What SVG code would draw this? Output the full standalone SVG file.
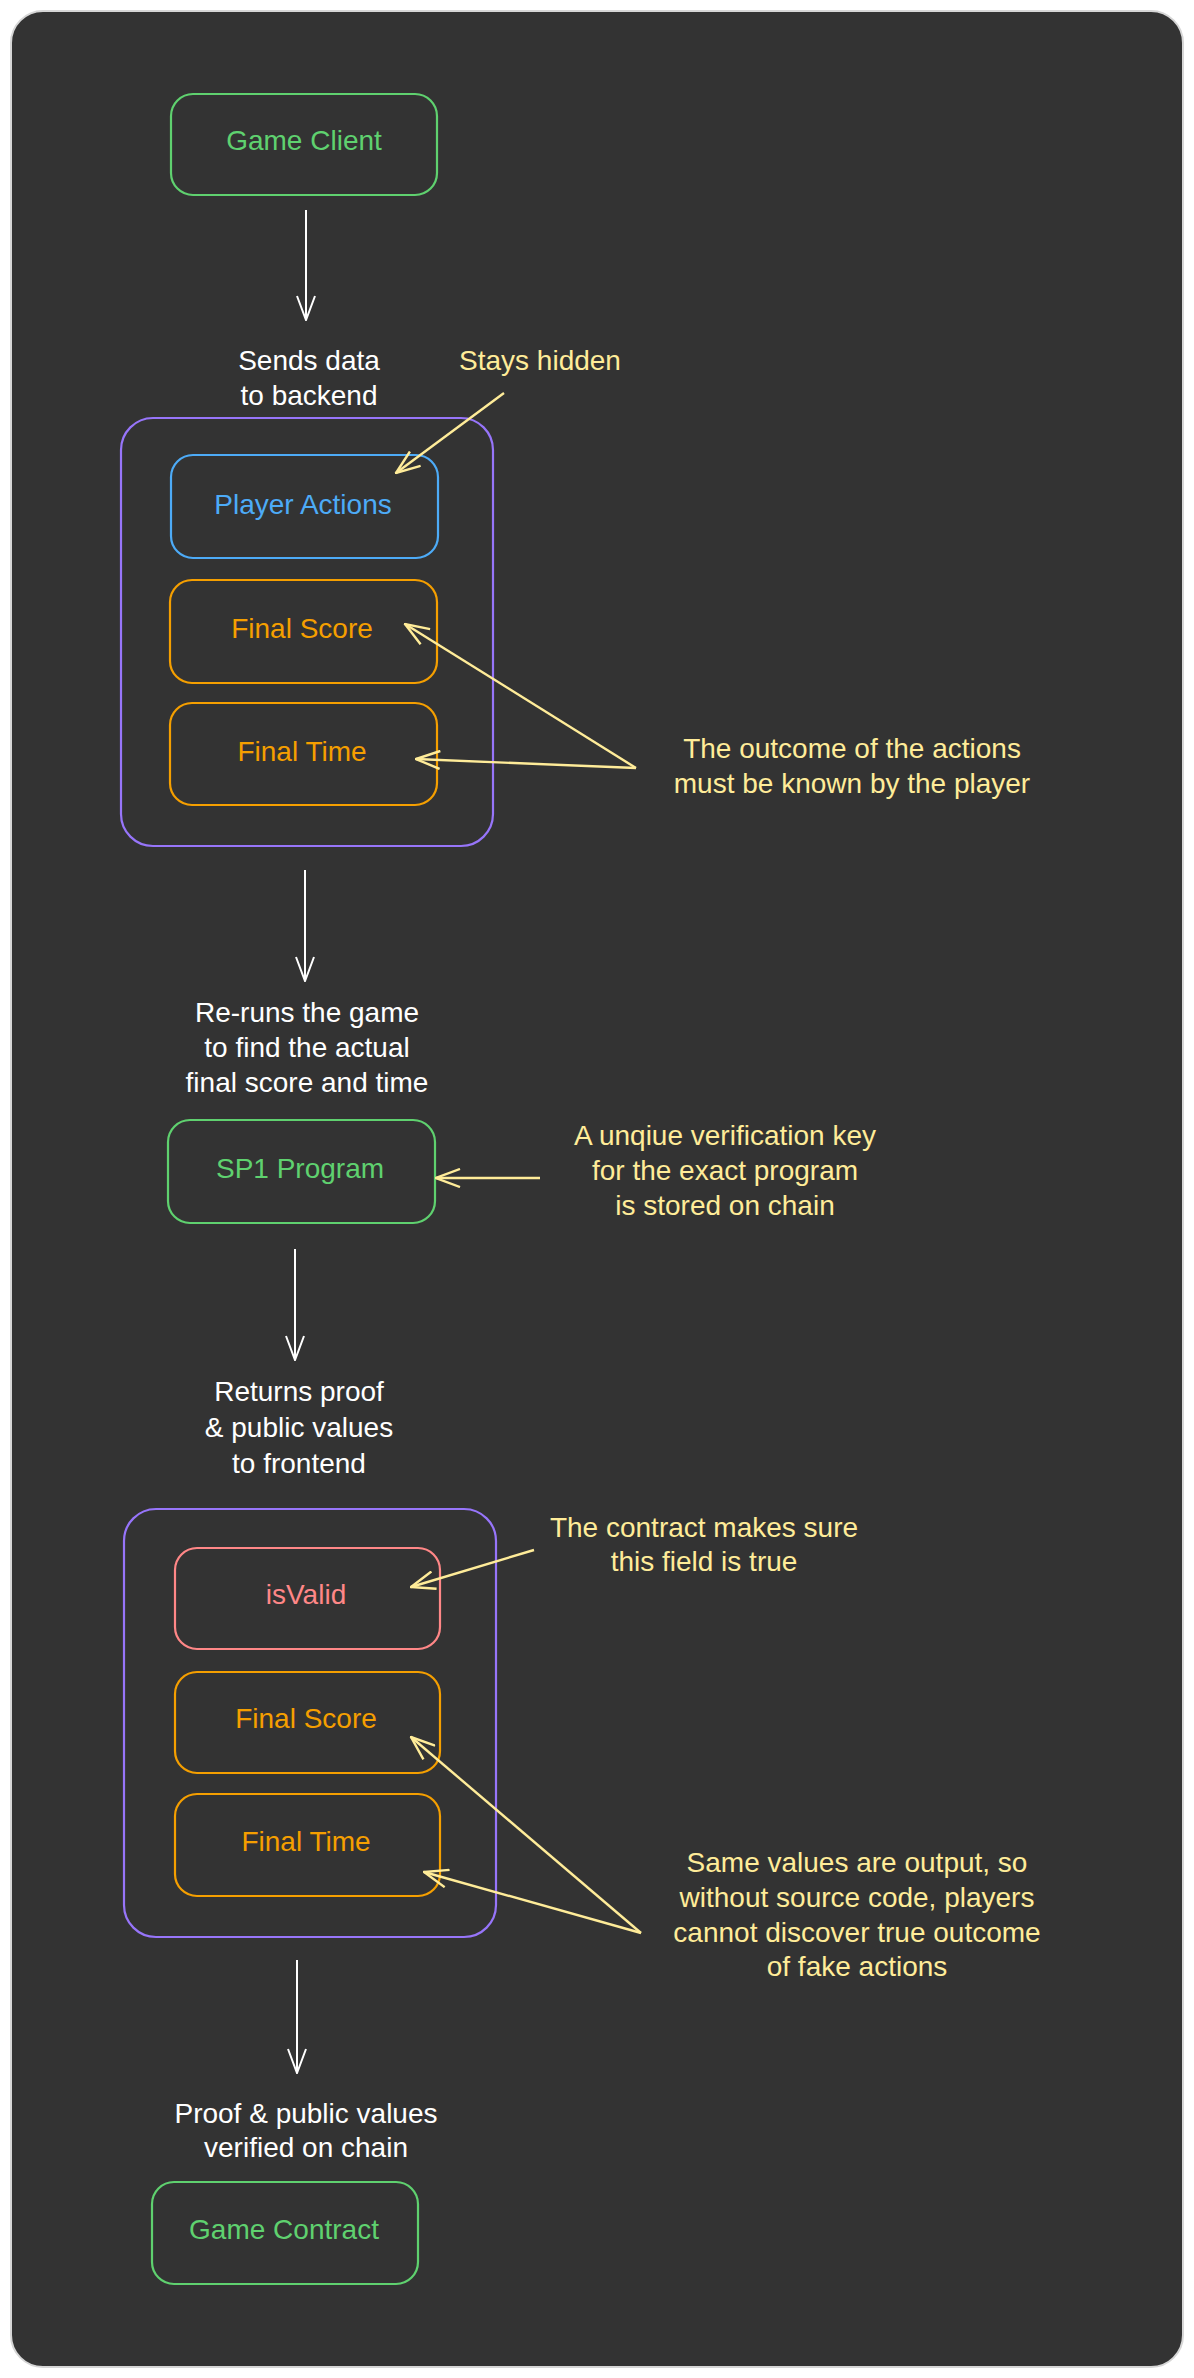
<svg xmlns="http://www.w3.org/2000/svg" width="1194" height="2378" viewBox="0 0 1194 2378">
<defs>
<style>
.t{font-family:"Liberation Sans","DejaVu Sans",sans-serif;font-size:28px;text-anchor:middle}
.w{fill:#ffffff}.y{fill:#ffec99}.g{fill:#5fd16f}.b{fill:#4dabf7}.o{fill:#f59f00}.r{fill:#ff8787}
.box{fill:none;stroke-width:2.2}
.cw{stroke:#ffffff;stroke-width:2;fill:none}
.cy{stroke:#ffec99;stroke-width:2.4;fill:none}
</style>
<marker id="aw" viewBox="0 0 26 20" refX="25" refY="10" markerWidth="26" markerHeight="20" markerUnits="userSpaceOnUse" orient="auto"><path d="M1,1 L25,10 L1,19" fill="none" stroke="#ffffff" stroke-width="2"/></marker>
<marker id="ay" viewBox="0 0 26 20" refX="25" refY="10" markerWidth="26" markerHeight="20" markerUnits="userSpaceOnUse" orient="auto"><path d="M1,1 L25,10 L1,19" fill="none" stroke="#ffec99" stroke-width="2.4"/></marker>
</defs>
<rect x="0" y="0" width="1194" height="2378" fill="#ffffff"/>
<rect x="11" y="11" width="1172" height="2356" rx="32" fill="#333333" stroke="#d6d6d6" stroke-width="2"/>

<g id="game-client"><rect class="box" x="171" y="94" width="266" height="101" rx="22" stroke="#5fd16f"/><text class="t g" x="304" y="150">Game Client</text></g>
<g id="backend-container"><rect class="box" x="121" y="418" width="372" height="428" rx="32" stroke="#9775fa"/></g>
<g id="player-actions"><rect class="box" x="171" y="455" width="267" height="103" rx="22" stroke="#4dabf7"/><text class="t b" x="303" y="514">Player Actions</text></g>
<g id="final-score-1"><rect class="box" x="170" y="580" width="267" height="103" rx="22" stroke="#f59f00"/><text class="t o" x="302" y="638">Final Score</text></g>
<g id="final-time-1"><rect class="box" x="170" y="703" width="267" height="102" rx="22" stroke="#f59f00"/><text class="t o" x="302" y="761">Final Time</text></g>
<g id="sp1-program"><rect class="box" x="168" y="1120" width="267" height="103" rx="22" stroke="#5fd16f"/><text class="t g" x="300" y="1178">SP1 Program</text></g>
<g id="output-container"><rect class="box" x="124" y="1509" width="372" height="428" rx="32" stroke="#9775fa"/></g>
<g id="is-valid"><rect class="box" x="175" y="1548" width="265" height="101" rx="22" stroke="#ff8787"/><text class="t r" x="306" y="1604">isValid</text></g>
<g id="final-score-2"><rect class="box" x="175" y="1672" width="265" height="101" rx="22" stroke="#f59f00"/><text class="t o" x="306" y="1728">Final Score</text></g>
<g id="final-time-2"><rect class="box" x="175" y="1794" width="265" height="102" rx="22" stroke="#f59f00"/><text class="t o" x="306" y="1851">Final Time</text></g>
<g id="game-contract"><rect class="box" x="152" y="2182" width="266" height="102" rx="22" stroke="#5fd16f"/><text class="t g" x="284" y="2239">Game Contract</text></g>

<g id="labels">
<text class="t w" x="309" y="370">Sends data</text>
<text class="t w" x="309" y="405">to backend</text>
<text class="t y" x="540" y="370">Stays hidden</text>
<text class="t y" x="852" y="758">The outcome of the actions</text>
<text class="t y" x="852" y="793">must be known by the player</text>
<text class="t w" x="307" y="1022">Re-runs the game</text>
<text class="t w" x="307" y="1057">to find the actual</text>
<text class="t w" x="307" y="1092">final score and time</text>
<text class="t y" x="725" y="1145">A unqiue verification key</text>
<text class="t y" x="725" y="1180">for the exact program</text>
<text class="t y" x="725" y="1215">is stored on chain</text>
<text class="t w" x="299" y="1401">Returns proof</text>
<text class="t w" x="299" y="1437">&amp; public values</text>
<text class="t w" x="299" y="1473">to frontend</text>
<text class="t y" x="704" y="1537">The contract makes sure</text>
<text class="t y" x="704" y="1571">this field is true</text>
<text class="t y" x="857" y="1872">Same values are output, so</text>
<text class="t y" x="857" y="1907">without source code, players</text>
<text class="t y" x="857" y="1942">cannot discover true outcome</text>
<text class="t y" x="857" y="1976">of fake actions</text>
<text class="t w" x="306" y="2123">Proof &amp; public values</text>
<text class="t w" x="306" y="2157">verified on chain</text>
</g>

<g id="connectors">
<line class="cw" x1="306" y1="210" x2="306" y2="320" marker-end="url(#aw)"/>
<line class="cw" x1="305" y1="870" x2="305" y2="981" marker-end="url(#aw)"/>
<line class="cw" x1="295" y1="1249" x2="295" y2="1360" marker-end="url(#aw)"/>
<line class="cw" x1="297" y1="1960" x2="297" y2="2073" marker-end="url(#aw)"/>
<line class="cy" x1="504" y1="393" x2="396" y2="473" marker-end="url(#ay)"/>
<line class="cy" x1="636" y1="768" x2="405" y2="624" marker-end="url(#ay)"/>
<line class="cy" x1="636" y1="768" x2="416" y2="759" marker-end="url(#ay)"/>
<line class="cy" x1="540" y1="1178" x2="436" y2="1178" marker-end="url(#ay)"/>
<line class="cy" x1="534" y1="1550" x2="411" y2="1587" marker-end="url(#ay)"/>
<line class="cy" x1="641" y1="1933" x2="411" y2="1737" marker-end="url(#ay)"/>
<line class="cy" x1="641" y1="1933" x2="424" y2="1872" marker-end="url(#ay)"/>
</g>
</svg>
